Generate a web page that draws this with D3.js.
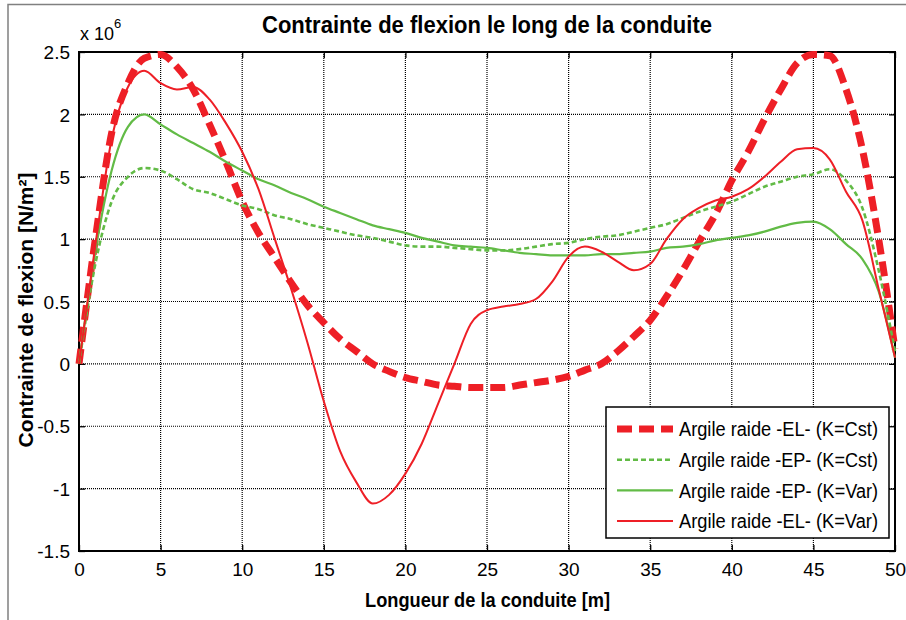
<!DOCTYPE html>
<html>
<head>
<meta charset="utf-8">
<script src="https://cdn.jsdelivr.net/npm/d3@7"></script>
<style>
  body { margin: 0; background: #fff; }
  svg { display: block; }
</style>
</head>
<body>
<script>
var width = 906,
    height = 620;

// longueur le long de la conduite (m)
var longueur = [0, 1, 2, 3, 4, 5, 6, 7, 8, 9, 10, 11, 12, 13, 14, 15, 16, 17, 18, 19, 20,
  21, 22, 23, 24, 25, 26, 27, 28, 29, 30, 31, 32, 33, 34, 35, 36, 37, 38, 39, 40,
  41, 42, 43, 44, 45, 46, 47, 48, 49, 50];

// contraintes en 1e6 N/m2
var elCst = [0, 1.0, 1.85, 2.25, 2.45, 2.48, 2.38, 2.2, 1.92, 1.62, 1.3, 1.05, 0.85, 0.65, 0.47,
  0.33, 0.2, 0.1, 0.0, -0.06, -0.11, -0.14, -0.17, -0.18, -0.19, -0.19, -0.19, -0.17, -0.15,
  -0.13, -0.1, -0.05, 0.0, 0.1, 0.22, 0.35, 0.54, 0.75, 0.98, 1.2, 1.47, 1.7, 1.96, 2.2,
  2.41, 2.48, 2.47, 2.2, 1.72, 1.0, 0.12];

var epCst = [0, 0.8, 1.3, 1.5, 1.57, 1.55, 1.48, 1.4, 1.37, 1.32, 1.27, 1.24, 1.19, 1.16, 1.12,
  1.09, 1.06, 1.03, 1.01, 0.98, 0.95, 0.94, 0.94, 0.93, 0.92, 0.91, 0.91, 0.92, 0.94,
  0.96, 0.97, 1.0, 1.02, 1.03, 1.06, 1.09, 1.12, 1.17, 1.22, 1.26, 1.3, 1.36, 1.42, 1.46,
  1.5, 1.52, 1.56, 1.47, 1.25, 0.75, 0.1];

var epVar = [0, 0.9, 1.55, 1.9, 2.0, 1.92, 1.84, 1.77, 1.7, 1.62, 1.55, 1.48, 1.43, 1.37, 1.32,
  1.26, 1.21, 1.16, 1.11, 1.08, 1.05, 1.01, 0.98, 0.95, 0.94, 0.93, 0.91, 0.89, 0.88,
  0.87, 0.87, 0.87, 0.88, 0.88, 0.89, 0.9, 0.93, 0.94, 0.96, 0.99, 1.01, 1.03, 1.06, 1.1,
  1.13, 1.14, 1.08, 0.96, 0.84, 0.58, 0.05];

var elVar = [0, 0.95, 1.8, 2.22, 2.35, 2.25, 2.2, 2.22, 2.12, 1.93, 1.7, 1.4, 1.0, 0.6, 0.17,
  -0.3, -0.7, -0.95, -1.12, -1.05, -0.88, -0.64, -0.32, 0.0, 0.32, 0.43, 0.46, 0.48, 0.52,
  0.66, 0.86, 0.94, 0.9, 0.82, 0.75, 0.8, 1.0, 1.16, 1.25, 1.31, 1.34, 1.4, 1.5, 1.62,
  1.72, 1.73, 1.64, 1.38, 1.15, 0.6, 0.05];

var xTicks = [0, 5, 10, 15, 20, 25, 30, 35, 40, 45, 50];
var yTicks = [-1.5, -1, -0.5, 0, 0.5, 1, 1.5, 2, 2.5];
var yTickLabels = ['-1.5', '-1', '-0.5', '0', '0.5', '1', '1.5', '2', '2.5'];

var legendLabels = [
  'Argile raide -EL- (K=Cst)',
  'Argile raide -EP- (K=Cst)',
  'Argile raide -EP- (K=Var)',
  'Argile raide -EL- (K=Var)'
];

var red = '#ee1f26',
    green = '#62bb46';

var series = [
  { values: elCst, color: red, width: 7, dash: '15,7' },
  { values: epCst, color: green, width: 2.6, dash: '5,3' },
  { values: epVar, color: green, width: 2.2, dash: null },
  { values: elVar, color: red, width: 2, dash: null }
];

var margin = { top: 52, left: 79, right: 11, bottom: 69 };
var w = width - margin.left - margin.right,
    h = height - margin.top - margin.bottom;

var svg = d3.select('body')
  .append('svg')
  .attr('width', width)
  .attr('height', height)
  .style('font-family', '"Liberation Sans", Arial, sans-serif');

// cadre de la figure
svg.append('path')
  .attr('d', 'M8,' + height + 'V4.5H' + width)
  .attr('fill', 'none')
  .attr('stroke', '#808080')
  .attr('stroke-width', 1.5);

var x = d3.scaleLinear().domain([0, 50]).range([0, w]);
var y = d3.scaleLinear().domain([-1.5, 2.5]).range([h, 0]);

var g = svg.append('g')
  .attr('transform', 'translate(' + margin.left + ',' + margin.top + ')');

// grille pointillee
g.append('g')
  .selectAll('line')
  .data(xTicks.slice(1, -1))
  .enter().append('line')
  .attr('x1', function(d) { return x(d); })
  .attr('x2', function(d) { return x(d); })
  .attr('y1', 0)
  .attr('y2', h)
  .attr('stroke', '#000')
  .attr('stroke-width', 1.2)
  .attr('stroke-dasharray', '1,1');

g.append('g')
  .selectAll('line')
  .data(yTicks.slice(1, -1))
  .enter().append('line')
  .attr('y1', function(d) { return y(d); })
  .attr('y2', function(d) { return y(d); })
  .attr('x1', 0)
  .attr('x2', w)
  .attr('stroke', '#000')
  .attr('stroke-width', 1.2)
  .attr('stroke-dasharray', '1,1');

// axes
var xAxis = g.append('g')
  .attr('transform', 'translate(0,' + h + ')')
  .call(d3.axisBottom(x).tickValues(xTicks).tickSize(-6).tickPadding(12));

var xTop = g.append('g')
  .call(d3.axisTop(x).tickValues(xTicks).tickSize(-6).tickFormat(''));

var yAxis = g.append('g')
  .call(d3.axisLeft(y).tickValues(yTicks).tickSize(-6).tickPadding(9)
    .tickFormat(function(d, i) { return yTickLabels[i]; }));

var yRight = g.append('g')
  .attr('transform', 'translate(' + w + ',0)')
  .call(d3.axisRight(y).tickValues(yTicks).tickSize(-6).tickFormat(''));

[xAxis, xTop, yAxis, yRight].forEach(function(a) {
  a.select('.domain').remove();
  a.selectAll('line').attr('stroke', '#000').attr('stroke-width', 1.3);
  a.selectAll('text')
    .attr('fill', '#000')
    .style('font-size', '19px')
    .style('font-family', '"Liberation Sans", Arial, sans-serif');
});

yAxis.selectAll('text').attr('dy', '0.35em');

g.append('rect')
  .attr('width', w)
  .attr('height', h)
  .attr('fill', 'none')
  .attr('stroke', '#000')
  .attr('stroke-width', 2);

// courbes
var line = d3.line()
  .x(function(d) { return x(d[0]); })
  .y(function(d) { return y(d[1]); })
  .curve(d3.curveMonotoneX);

g.selectAll('.serie')
  .data(series)
  .enter().append('path')
  .attr('class', 'serie')
  .attr('fill', 'none')
  .attr('stroke', function(d) { return d.color; })
  .attr('stroke-width', function(d) { return d.width; })
  .attr('stroke-dasharray', function(d) { return d.dash; })
  .attr('d', function(d) {
    return line(d.values.map(function(v, i) { return [longueur[i], v]; }));
  });

// legende
var legend = g.append('g')
  .attr('transform', 'translate(' + (606 - margin.left) + ',' + (407 - margin.top) + ')');

legend.append('rect')
  .attr('width', 283)
  .attr('height', 131)
  .attr('fill', '#fff')
  .attr('stroke', '#000')
  .attr('stroke-width', 1.5);

var item = legend.selectAll('.item')
  .data(series)
  .enter().append('g')
  .attr('transform', function(d, i) { return 'translate(0,' + (22 + i * 30.7) + ')'; });

item.append('line')
  .attr('x1', 11)
  .attr('x2', 67)
  .attr('stroke', function(d) { return d.color; })
  .attr('stroke-width', function(d) { return d.width; })
  .attr('stroke-dasharray', function(d) { return d.dash; });

item.append('text')
  .attr('x', 73)
  .attr('dy', '0.36em')
  .style('font-size', '20px')
  .attr('textLength', 199)
  .attr('lengthAdjust', 'spacingAndGlyphs')
  .text(function(d, i) { return legendLabels[i]; });

// titres
svg.append('text')
  .attr('x', 487)
  .attr('y', 33)
  .attr('text-anchor', 'middle')
  .attr('textLength', 450)
  .attr('lengthAdjust', 'spacingAndGlyphs')
  .style('font-size', '23px')
  .style('font-weight', 'bold')
  .text('Contrainte de flexion le long de la conduite');

var expo = svg.append('text')
  .attr('x', 80)
  .attr('y', 40)
  .style('font-size', '18px');
expo.append('tspan').text('x 10');
expo.append('tspan').attr('dy', -12).style('font-size', '13px').text('6');

svg.append('text')
  .attr('x', 487.5)
  .attr('y', 607)
  .attr('text-anchor', 'middle')
  .attr('textLength', 245)
  .attr('lengthAdjust', 'spacingAndGlyphs')
  .style('font-size', '20px')
  .style('font-weight', 'bold')
  .text('Longueur de la conduite [m]');

svg.append('text')
  .attr('transform', 'translate(33,' + 310 + ') rotate(-90)')
  .attr('text-anchor', 'middle')
  .attr('textLength', 275)
  .attr('lengthAdjust', 'spacingAndGlyphs')
  .style('font-size', '20px')
  .style('font-weight', 'bold')
  .text('Contrainte de flexion [N/m²]');
</script>
</body>
</html>
